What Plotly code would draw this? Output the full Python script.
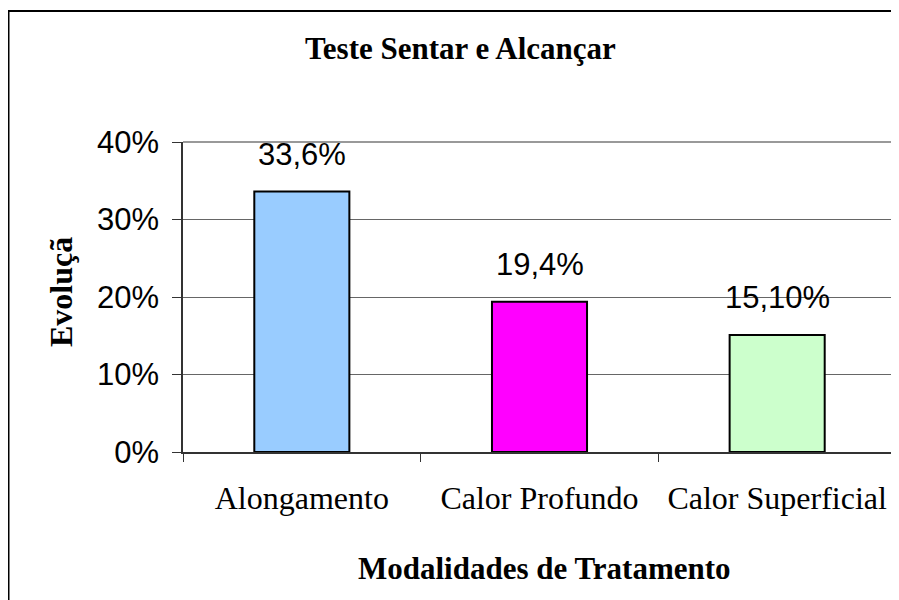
import plotly.graph_objects as go

categories = ["Alongamento", "Calor Profundo", "Calor Superficial"]
values = [0.336, 0.194, 0.151]
value_labels = ["33,6%", "19,4%", "15,10%"]
bar_colors = ["#99CCFF", "#FF00FF", "#CCFFCC"]
y_ticks = [0, 0.1, 0.2, 0.3, 0.4]
y_tick_labels = ["0%", "10%", "20%", "30%", "40%"]

# page has an 8px body margin, so the figure is offset by 8px
OFF = 8
W, H = 899 - OFF, 600 - OFF
L, T = 183 - OFF, 142 - OFF
PW, PH = 713, 310
R = W - L - PW
B = H - T - PH


def px_x(x):
    # x in page pixels
    return (x - OFF - L) / PW


def px_y(y):
    return (T + PH - (y - OFF)) / PH


fig = go.Figure()
fig.add_trace(go.Bar(
    x=categories, y=values,
    marker=dict(color=bar_colors, line=dict(color="black", width=2)),
    width=0.4,
    hoverinfo="skip",
))

annotations = []
for c, v, t in zip(categories, values, value_labels):
    annotations.append(dict(
        x=c, y=v, xref="x", yref="y", text=t, showarrow=False,
        yanchor="bottom", yshift=18,
        font=dict(family="Liberation Sans, Arial", size=31, color="black"),
    ))

annotations.append(dict(
    x=px_x(460), y=px_y(49), xref="paper", yref="paper",
    text="<b>Teste Sentar e Alcançar</b>", showarrow=False,
    xanchor="center", yanchor="middle",
    font=dict(family="Liberation Serif, Times New Roman", size=31, color="black"),
))
annotations.append(dict(
    x=px_x(544), y=px_y(568), xref="paper", yref="paper",
    text="<b>Modalidades de Tratamento</b>", showarrow=False,
    xanchor="center", yanchor="middle",
    font=dict(family="Liberation Serif, Times New Roman", size=31, color="black"),
))
annotations.append(dict(
    x=px_x(61), y=px_y(292), xref="paper", yref="paper",
    text="<b>Evoluçã</b>", showarrow=False, textangle=-90,
    xanchor="center", yanchor="middle",
    font=dict(family="Liberation Serif, Times New Roman", size=32, color="black"),
))

shapes = [
    # outer chart frame
    dict(type="rect", xref="paper", yref="paper",
         x0=px_x(8.5), x1=px_x(910), y0=px_y(612), y1=px_y(11),
         line=dict(color="black", width=2), fillcolor="rgba(0,0,0,0)", layer="below"),
    # plot area top and right borders
    dict(type="line", xref="paper", yref="paper", x0=0, x1=1, y0=1, y1=1,
         line=dict(color="#999999", width=2), layer="below"),
    dict(type="line", xref="paper", yref="paper", x0=1, x1=1, y0=0, y1=1,
         line=dict(color="#999999", width=2), layer="below"),
]

fig.update_layout(
    width=W, height=H,
    margin=dict(l=L, r=R, t=T, b=B, pad=0),
    paper_bgcolor="white", plot_bgcolor="white",
    showlegend=False,
    bargap=0.6,
    annotations=annotations,
    shapes=shapes,
    xaxis=dict(
        type="category",
        showgrid=False,
        showline=True, linecolor="#333333", linewidth=1.5,
        ticks="outside", ticklen=8, tickcolor="#333333", tickwidth=1,
        tickson="boundaries",
        ticklabelstandoff=17,
        tickfont=dict(family="Liberation Serif, Times New Roman", size=32, color="black"),
        fixedrange=True,
    ),
    yaxis=dict(
        range=[0, 0.4],
        tickvals=y_ticks, ticktext=y_tick_labels,
        showgrid=True, gridcolor="#666666", gridwidth=1,
        showline=True, linecolor="#333333", linewidth=1.5,
        ticks="outside", ticklen=9, tickcolor="#333333", tickwidth=1,
        ticklabelstandoff=7,
        zeroline=False,
        tickfont=dict(family="Liberation Sans, Arial", size=31, color="black"),
        fixedrange=True,
    ),
)

fig.write_html("out.html", config={"displayModeBar": False})
